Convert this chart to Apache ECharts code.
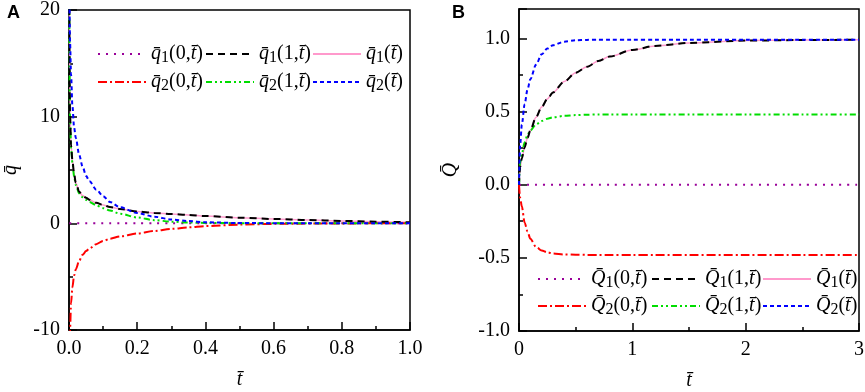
<!DOCTYPE html>
<html>
<head>
<meta charset="utf-8">
<title>Heat flux q and heat Q vs time</title>
<script src="https://cdn.jsdelivr.net/npm/echarts@6/dist/echarts.min.js"></script>
<style>
html, body { margin: 0; padding: 0; background: #fff; }
#chart { width: 865px; height: 392px; }
</style>
</head>
<body>
<div id="chart"></div>
<script>
// ---- panel A : q vs t ----
var timesA = [0.0007, 0.003, 0.006, 0.01, 0.015, 0.02, 0.03, 0.04, 0.05, 0.06, 0.08, 0.1, 0.12, 0.15, 0.2, 0.25, 0.3, 0.35, 0.4, 0.5, 0.6, 0.7, 0.8, 0.9, 1.0];
var q1Zero = [0, 0, 0, 0, 0, 0, 0, 0, 0, 0, 0, 0, 0, 0, 0, 0, 0, 0, 0, 0, 0, 0, 0, 0, 0];
var q1One = [21.3, 10.3, 7.3, 5.9, 4.6, 3.8, 2.95, 2.6, 2.4, 2.2, 1.92, 1.72, 1.53, 1.35, 1.12, 0.97, 0.88, 0.79, 0.68, 0.53, 0.41, 0.31, 0.23, 0.16, 0.1];
var q1Mean = [21.3, 10.3, 7.3, 5.9, 4.6, 3.8, 2.95, 2.6, 2.4, 2.2, 1.92, 1.72, 1.53, 1.35, 1.12, 0.97, 0.88, 0.79, 0.68, 0.53, 0.41, 0.31, 0.23, 0.16, 0.1];
var q2Zero = [-14, -10, -7.5, -6.0, -4.9, -4.3, -3.5, -2.95, -2.6, -2.35, -1.95, -1.65, -1.44, -1.23, -0.95, -0.72, -0.52, -0.38, -0.26, -0.12, -0.05, -0.02, -0.01, 0, 0];
var q2One = [21, 10.0, 7.1, 5.7, 4.4, 3.6, 2.8, 2.45, 2.2, 2.0, 1.7, 1.42, 1.2, 0.9, 0.55, 0.3, 0.16, 0.08, 0.04, 0.01, 0, 0, 0, 0, 0];
var q2Mean = [24, 17, 14, 11, 9, 8.0, 6.4, 5.3, 4.45, 3.95, 3.15, 2.55, 2.0, 1.5, 0.97, 0.62, 0.36, 0.21, 0.1, 0.03, 0.01, 0, 0, 0, 0];
var ticksAx = [0, 0.2, 0.4, 0.6, 0.8, 1.0];
var ticksAy = [-10, 0, 10, 20];

// ---- panel B : Q vs t ----
var timesB = [0, 0.01, 0.025, 0.05, 0.075, 0.1, 0.15, 0.2, 0.25, 0.3, 0.4, 0.5, 0.6, 0.7, 0.8, 1.0, 1.2, 1.5, 2.0, 2.5, 3.0];
var Q1Zero = [0, 0, 0, 0, 0, 0, 0, 0, 0, 0, 0, 0, 0, 0, 0, 0, 0, 0, 0, 0, 0];
var Q1One = [0, 0.12, 0.18, 0.255, 0.32, 0.37, 0.46, 0.53, 0.585, 0.63, 0.705, 0.765, 0.805, 0.845, 0.875, 0.92, 0.948, 0.968, 0.984, 0.988, 0.99];
var Q1Mean = [0, 0.12, 0.18, 0.255, 0.32, 0.37, 0.46, 0.53, 0.585, 0.63, 0.705, 0.765, 0.805, 0.845, 0.875, 0.92, 0.948, 0.968, 0.984, 0.988, 0.99];
var Q2Zero = [0, -0.09, -0.15, -0.26, -0.32, -0.37, -0.425, -0.45, -0.463, -0.47, -0.477, -0.479, -0.48, -0.48, -0.48, -0.48, -0.48, -0.48, -0.48, -0.48, -0.48];
var Q2One = [0, 0.15, 0.21, 0.29, 0.34, 0.37, 0.41, 0.435, 0.45, 0.46, 0.47, 0.475, 0.478, 0.479, 0.48, 0.48, 0.48, 0.48, 0.48, 0.48, 0.48];
var Q2Mean = [0, 0.27, 0.41, 0.55, 0.65, 0.72, 0.82, 0.89, 0.93, 0.953, 0.977, 0.986, 0.989, 0.99, 0.99, 0.99, 0.99, 0.99, 0.99, 0.99, 0.99];
var ticksBx = [0, 1, 2, 3];
var ticksBy = [-1.0, -0.5, 0.0, 0.5, 1.0];

var FONT = '"Liberation Serif", "Times New Roman", serif';
var BAR = '\u0304';

// line look of the six curves (same in both panels)
var styles = {
    zero1: { color: '#990099', width: 2, type: [2, 6] },
    one1:  { color: '#000000', width: 2, type: [7, 5] },
    mean1: { color: '#FF99CC', width: 1.5, type: 'solid' },
    zero2: { color: '#FF0000', width: 2, type: [9, 3, 2, 3] },
    one2:  { color: '#00DD00', width: 2, type: [6, 3, 2, 3, 2, 3] },
    mean2: { color: '#0000FF', width: 2, type: [4, 3] }
};

var rich = {
    v: { fontFamily: FONT, fontStyle: 'italic', fontSize: 20, lineHeight: 24, color: '#000' },
    n: { fontFamily: FONT, fontSize: 20, lineHeight: 24, color: '#000' },
    s: { fontFamily: FONT, fontSize: 16, lineHeight: 14, verticalAlign: 'bottom', color: '#000' }
};

/**
 * rich text of a legend entry, e.g. q̄1(0,t̄)
 */
function legendText(sym, sub, arg) {
    var s = '{v|' + sym + BAR + '}{s|' + sub + '}';
    if (arg === '') {
        s += '{n|(}{v|t' + BAR + '}{n|)}';
    } else {
        s += '{n|(' + arg + ',}{v|t' + BAR + '}{n|)}';
    }
    return s;
}

function pairs(xs, ys) {
    var out = [];
    for (var i = 0; i < xs.length; i++) {
        out.push([xs[i], ys[i]]);
    }
    return out;
}

function line(id, idx, xs, ys, style, z) {
    return {
        id: id,
        name: id,
        type: 'line',
        xAxisIndex: idx,
        yAxisIndex: idx,
        data: pairs(xs, ys),
        symbol: 'none',
        smooth: 0.3,
        smoothMonotone: 'x',
        z: z,
        lineStyle: { color: style.color, width: style.width, type: style.type },
        itemStyle: { color: style.color },
        emphasis: { disabled: true },
        animation: false
    };
}

function axisX(idx, min, max, interval, digits) {
    return {
        type: 'value', gridIndex: idx, min: min, max: max, interval: interval,
        name: '{v|t' + BAR + '}', nameLocation: 'middle', nameGap: 38,
        nameTextStyle: { rich: rich },
        axisLine: { onZero: false, lineStyle: { color: '#000', width: 1.5 } },
        axisTick: { inside: true, length: 8, lineStyle: { color: '#000', width: 1.5 } },
        minorTick: { show: true, splitNumber: 2, length: 4, lineStyle: { color: '#000', width: 1.5 } },
        splitLine: { show: false },
        axisLabel: {
            margin: 9, color: '#000', fontFamily: FONT, fontSize: 20,
            formatter: function (v) { return v.toFixed(digits); }
        }
    };
}

function axisY(idx, min, max, interval, digits, sym, gap) {
    return {
        type: 'value', gridIndex: idx, min: min, max: max, interval: interval,
        name: '{v|' + sym + BAR + '}', nameLocation: 'middle', nameGap: gap, nameRotate: 90,
        nameTextStyle: { rich: rich },
        axisLine: { onZero: false, lineStyle: { color: '#000', width: 1.5 } },
        axisTick: { inside: true, length: 8, lineStyle: { color: '#000', width: 1.5 } },
        minorTick: { show: true, splitNumber: 2, length: 4, lineStyle: { color: '#000', width: 1.5 } },
        splitLine: { show: false },
        axisLabel: {
            margin: 9, color: '#000', fontFamily: FONT, fontSize: 20, showMaxLabel: digits > 0 ? false : true,
            formatter: function (v) { return v.toFixed(digits); }
        }
    };
}

var order = ['zero1', 'one1', 'mean1', 'zero2', 'one2', 'mean2'];
var legendCols = { A: [97, 205, 312], B: [537, 651, 762] };
var legendRows = { A: [56, 84], B: [281, 308] };

/**
 * one legend component per entry, so the two rows line up as in the figure
 */
function legends(panel, sym) {
    var out = [];
    var texts = {};
    texts[panel + 'zero1'] = legendText(sym, '1', '0');
    texts[panel + 'one1'] = legendText(sym, '1', '1');
    texts[panel + 'mean1'] = legendText(sym, '1', '');
    texts[panel + 'zero2'] = legendText(sym, '2', '0');
    texts[panel + 'one2'] = legendText(sym, '2', '1');
    texts[panel + 'mean2'] = legendText(sym, '2', '');
    for (var i = 0; i < order.length; i++) {
        var key = panel + order[i];
        out.push({
            data: [key],
            left: legendCols[panel][i % 3],
            top: legendRows[panel][Math.floor(i / 3)] - 12,
            padding: 0,
            itemWidth: 48,
            itemHeight: 14,
            selectedMode: false,
            // hide the round marker, keep only the line sample
            itemStyle: { color: 'rgba(0,0,0,0)', borderWidth: 0, borderColor: 'rgba(0,0,0,0)' },
            textStyle: { fontFamily: FONT, rich: rich },
            formatter: (function (t) { return function () { return t; }; })(texts[key])
        });
    }
    return out;
}

function loadChart() {
    var myChart = echarts.init(document.getElementById('chart'), null, { renderer: 'canvas' });
    var gridStyle = {
        show: true, borderColor: '#000', borderWidth: 1.5, backgroundColor: 'transparent',
        containLabel: false, outerBoundsMode: 'none'
    };
    var option = {
        backgroundColor: '#fff',
        animation: false,
        textStyle: { fontFamily: FONT },
        title: [
            { text: 'A', left: 7, top: 4, padding: 0, textStyle: { fontFamily: 'Liberation Sans', fontWeight: 'bold', fontSize: 18, color: '#000' } },
            { text: 'B', left: 452, top: 4, padding: 0, textStyle: { fontFamily: 'Liberation Sans', fontWeight: 'bold', fontSize: 18, color: '#000' } }
        ],
        grid: [
            Object.assign({ left: 69, right: 455, top: 10, bottom: 62 }, gridStyle),
            Object.assign({ left: 519, right: 6, top: 9, bottom: 61 }, gridStyle)
        ],
        xAxis: [
            axisX(0, ticksAx[0], ticksAx[ticksAx.length - 1], 0.2, 1),
            axisX(1, ticksBx[0], ticksBx[ticksBx.length - 1], 1, 0)
        ],
        yAxis: [
            axisY(0, ticksAy[0], ticksAy[ticksAy.length - 1], 10, 0, 'q', 46),
            axisY(1, ticksBy[0], 1.2, 0.5, 1, 'Q', 56)
        ],
        legend: legends('A', 'q').concat(legends('B', 'Q')),
        series: [
            line('Azero1', 0, timesA, q1Zero, styles.zero1, 2),
            line('Amean1', 0, timesA, q1Mean, styles.mean1, 2),
            line('Aone1', 0, timesA, q1One, styles.one1, 3),
            line('Azero2', 0, timesA, q2Zero, styles.zero2, 2),
            line('Aone2', 0, timesA, q2One, styles.one2, 2),
            line('Amean2', 0, timesA, q2Mean, styles.mean2, 4),
            line('Bzero1', 1, timesB, Q1Zero, styles.zero1, 2),
            line('Bmean1', 1, timesB, Q1Mean, styles.mean1, 2),
            line('Bone1', 1, timesB, Q1One, styles.one1, 3),
            line('Bzero2', 1, timesB, Q2Zero, styles.zero2, 2),
            line('Bone2', 1, timesB, Q2One, styles.one2, 2),
            line('Bmean2', 1, timesB, Q2Mean, styles.mean2, 4)
        ]
    };
    myChart.setOption(option, true);
}

loadChart();
</script>
</body>
</html>
